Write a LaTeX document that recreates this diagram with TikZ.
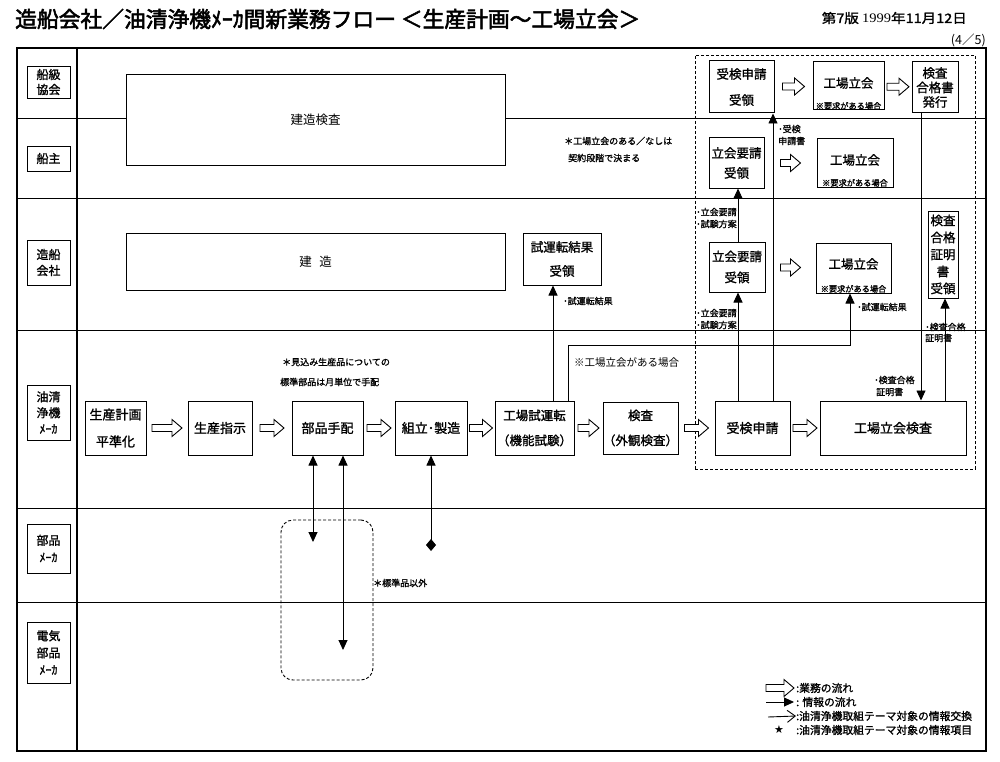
\documentclass[tikz,border=0pt]{standalone}
\usepackage{fontspec}
\usepackage{graphicx}
\setmainfont{Noto Sans CJK JP}
\newfontfamily\jpb[FakeBold=1.2]{Noto Sans CJK JP}
\newfontfamily\jpbb[FakeBold=2.5]{Noto Sans CJK JP}
\newfontfamily\symf{DejaVu Sans}
\newfontfamily\serf{Liberation Serif}
\usetikzlibrary{arrows.meta,calc}
\newcommand\hollowat[2]{%
  \draw[hollow] ($(#1)+(-#2/2,3.5)$) -- ++(#2-10,0) -- ++(0,5) -- ++(10,-8.5) -- ++(-10,-8.5) -- ++(0,5) -- ++(-#2+10,0) -- cycle;}
\newcommand\harrow[3]{\path ($(#1.east)!0.5!(#2.west)$) coordinate (hc); \hollowat{hc}{#3}}
\begin{document}
\begin{tikzpicture}[x=1pt,y=-1pt,
 box/.style={draw, line width=1pt, fill=white, inner sep=0pt, align=center},
 bt/.style={font=\jpb\fontsize{13}{27}\selectfont},
 ut/.style={font=\jpb\fontsize{12.5}{15}\selectfont, align=center, inner sep=0pt},
 lane/.style={draw, line width=0.9pt, fill=white, inner sep=0pt, align=center, minimum width=43pt, font=\jpb\fontsize{12}{15}\selectfont},
 info/.style={line width=0.9pt, -{Triangle[length=10pt,width=9pt]}},
 bi/.style={line width=0.9pt, {Triangle[length=10pt,width=9pt]}-{Triangle[length=10pt,width=9pt]}},
 hollow/.style={line width=0.9pt, fill=white, line join=miter},
 sm/.style={font=\jpb\fontsize{9}{10}\selectfont, inner sep=0pt, anchor=west},
 note/.style={font=\jpb\fontsize{9}{10}\selectfont, inner sep=0pt},
 req/.style={font=\jpb\fontsize{8.2}{9}\selectfont, inner sep=0.6pt, anchor=south},
 lgt/.style={anchor=west, inner sep=0pt, font=\jpb\fontsize{10.8}{12}\selectfont},
 div/.style={line width=0.9pt}]
\useasboundingbox (0,0) rectangle (1000,762);
\fill[white] (0,0) rectangle (1000,762);

% header
\node[anchor=west, inner sep=0pt] (title) at (15,19) {\resizebox{625pt}{!}{\jpbb\fontsize{22}{22}\selectfont 造船会社／油清浄機ﾒｰｶ間新業務フロー ＜生産計画～工場立会＞}};
\node[anchor=east, inner sep=0pt] (date) at (967,18) {\resizebox{145pt}{11pt}{\jpb\fontsize{12}{12}\selectfont 第7版 {\serf 1999}年11月12日}};
\node[anchor=east, inner sep=0pt] (page) at (986,40) {\fontsize{12.5}{12}\selectfont (4／5)};

% frame and lanes
\foreach \yy in {118,198,330,508,602} \draw[div] (17,\yy) -- (986,\yy);
\draw[line width=1.2pt] (17,48) rectangle (986,751);
\draw[line width=1.2pt] (77,48) -- (77,751);

\node[lane, minimum height=32pt] (L1) at (48.5,82) {船級\\協会};
\node[lane, minimum height=25pt] (L2) at (48.5,158.5) {船主};
\node[lane, minimum height=45pt, font=\jpb\fontsize{12}{16}\selectfont] (L3) at (48.5,262.5) {造船\\会社};
\node[lane, minimum height=55pt, font=\jpb\fontsize{12}{16}\selectfont] (L4) at (48.5,412.5) {油清\\浄機\\ﾒｰｶ};
\node[lane, minimum height=49pt, font=\jpb\fontsize{12}{17}\selectfont] (L5) at (48.5,548.5) {部品\\ﾒｰｶ};
\node[lane, minimum height=61pt, font=\jpb\fontsize{12}{17}\selectfont] (L6) at (48.5,652.5) {電気\\部品\\ﾒｰｶ};

% dashed zone
\node[draw, dashed, dash pattern=on 3pt off 2pt, line width=0.9pt, minimum width=280pt, minimum height=414pt, inner sep=0pt] (zone) at (835,262) {};

% wide boxes
\node[box, line width=0.8pt, minimum width=379pt, minimum height=91pt, font=\fontsize{12.5}{15}\selectfont] (k1) at (315.5,119.5) {建造検査};
\node[box, line width=0.8pt, minimum width=379pt, minimum height=57pt, font=\fontsize{12.5}{15}\selectfont] (k2) at (315.5,261.5) {建\hspace{0.6em}造};

% main row
\node[box, bt, minimum width=61pt, minimum height=54pt] (p1) at (115.5,428) {生産計画\\平準化};
\node[box, bt, minimum width=64pt, minimum height=54pt] (p2) at (220,428) {生産指示};
\node[box, bt, minimum width=71pt, minimum height=54pt] (p3) at (327.5,428) {部品手配};
\node[box, bt, minimum width=72pt, minimum height=54pt] (p4) at (431,428) {組立･製造};
\node[box, bt, minimum width=79pt, minimum height=54pt, font=\jpb\fontsize{12.5}{25}\selectfont] (p5) at (534.5,428) {工場試運転\\（機能試験）};
\node[box, bt, minimum width=73pt, minimum height=52pt, font=\jpb\fontsize{12.5}{25}\selectfont] (p6) at (640.5,428) {検査\\（外観検査）};
\node[box, bt, minimum width=75pt, minimum height=54pt] (p7) at (752.5,428) {受検申請};
\node[box, bt, minimum width=146pt, minimum height=54pt] (p8) at (893,428) {工場立会検査};

% upper boxes
\node[box, ut, minimum width=65pt, minimum height=52pt, font=\jpb\fontsize{12.5}{26}\selectfont] (u1) at (741.5,87) {受検申請\\受領};
\node[box, minimum width=71pt, minimum height=48pt] (u2) at (848.5,86) {};
\node[ut] (u2t) at ([yshift=3pt]u2.center) {工場立会};
\node[req] (u2r) at (u2.south) {※要求がある場合};
\node[box, ut, minimum width=46pt, minimum height=51pt, font=\jpb\fontsize{12.5}{14.5}\selectfont] (u3) at (935,87.5) {検査\\合格書\\発行};

\node[box, ut, minimum width=55pt, minimum height=50pt, font=\jpb\fontsize{12.5}{20}\selectfont] (o1) at (736.5,163) {立会要請\\受領};
\node[box, minimum width=76pt, minimum height=48pt] (o2) at (855,163) {};
\node[ut] (o2t) at ([yshift=3pt]o2.center) {工場立会};
\node[req] (o2r) at (o2.south) {※要求がある場合};

\node[box, ut, minimum width=56pt, minimum height=50pt, font=\jpb\fontsize{12.5}{21}\selectfont] (s1) at (737,267) {立会要請\\受領};
\node[box, minimum width=75pt, minimum height=50pt] (s2) at (853.5,268) {};
\node[ut] (s2t) at ([yshift=4pt]s2.center) {工場立会};
\node[req] (s2r) at (s2.south) {※要求がある場合};
\node[box, ut, minimum width=30pt, minimum height=87pt, font=\jpb\fontsize{12.5}{17}\selectfont] (s3) at (943,254.5) {検査\\合格\\証明\\書\\受領};
\node[box, ut, minimum width=78pt, minimum height=52pt, font=\jpb\fontsize{12.5}{24}\selectfont] (s4) at (562,259) {試運転結果\\受領};

% hollow (work flow) arrows
\harrow{p1}{p2}{30}
\harrow{p2}{p3}{24}
\harrow{p3}{p4}{24}
\harrow{p4}{p5}{23}
\harrow{p5}{p6}{21}
\harrow{p6}{p7}{24}
\harrow{p7}{p8}{24}
\harrow{u1}{u2}{22}
\harrow{u2}{u3}{22}
\harrow{o1}{o2}{20}
\harrow{s1}{s2}{20}

% information arrows
\coordinate (c553) at (553,0);
\coordinate (c568) at (568,0);
\coordinate (c850) at (850,345);
\coordinate (c738) at (738,0);
\coordinate (c773) at (773,0);
\coordinate (c921) at (921,0);
\coordinate (c945) at (945,0);
\draw[info] (p5.north -| c553) -- (s4.south -| c553);
\draw[info] (p5.north -| c568) |- (c850) -- (s2.south -| c850);
\draw[info] (p7.north -| c738) -- (s1.south -| c738);
\draw[info] (s1.north -| c738) -- (o1.south -| c738);
\draw[info] (p7.north -| c773) -- (u1.south -| c773);
\draw[info] (u3.south -| c921) -- (p8.north -| c921);
\draw[info] (p8.north -| c945) -- (s3.south -| c945);

% parts makers
\node[draw, dashed, dash pattern=on 3pt off 2pt, rounded corners=12pt, line width=0.9pt, minimum width=92pt, minimum height=160pt, inner sep=0pt] (grp) at (327,600) {};
\coordinate (b313) at (313,542);
\coordinate (b343) at (343,650);
\coordinate (b431) at (431,551);
\draw[bi] (p3.south -| b313) -- (b313);
\draw[bi] (p3.south -| b343) -- (b343);
\draw[line width=0.9pt, {Diamond[length=12pt,width=10pt]}-{Triangle[length=10pt,width=9pt]}] (b431) -- (p4.south -| b431);

% small labels
\node[sm] (t1) at (778,129) {･受検};
\node[sm] (t2) at (778,141) {申請書};
\node[sm] (t3) at (696,212) {･立会要請};
\node[sm] (t4) at (696,224) {･試験方案};
\node[sm] (t5) at (696,313) {･立会要請};
\node[sm] (t6) at (696,325) {･試験方案};
\node[sm] (t7) at (563,301) {･試運転結果};
\node[sm] (t8) at (857,307) {･試運転結果};
\node[sm] (t9) at (925,327) {･検査合格};
\node[sm] (t10) at (925,338) {証明書};
\node[sm] (t11) at (874,380) {･検査合格};
\node[sm] (t12) at (876,392) {証明書};
\node[anchor=west, inner sep=0pt, font=\fontsize{10.5}{12}\selectfont] (t13) at (574,362) {※工場立会がある場合};

\node[note, anchor=west] (n1) at (282,362) {＊見込み生産品についての};
\node[note, anchor=west] (n2) at (280,382) {標準部品は月単位で手配};
\node[note, anchor=west] (n3) at (564,141) {＊工場立会のある／なしは};
\node[note, anchor=west] (n4) at (568,158) {契約段階で決まる};
\node[note, anchor=west] (n5) at (373,583) {＊標準品以外};

% legend
\coordinate (lg1) at (780,688);
\hollowat{lg1}{28}
\coordinate (lg2a) at (766,702);
\coordinate (lg2b) at (794,702);
\draw[info] (lg2a) -- (lg2b);
\coordinate (lg3a) at (768,717);
\coordinate (lg3b) at (796,716);
\draw[line width=0.9pt, -{Straight Barb[length=8pt,width=12pt]}] (lg3a) -- (lg3b);
\node[inner sep=0pt, font=\symf\fontsize{11}{11}\selectfont] (star) at (779,730) {★};
\node[lgt] (lt1) at (796,688) {:業務の流れ};
\node[lgt] (lt2) at (796,702) {: 情報の流れ};
\node[lgt] (lt3) at (796,716) {:油清浄機取組テーマ対象の情報交換};
\node[lgt] (lt4) at (796,730) {:油清浄機取組テーマ対象の情報項目};
\end{tikzpicture}
\end{document}
